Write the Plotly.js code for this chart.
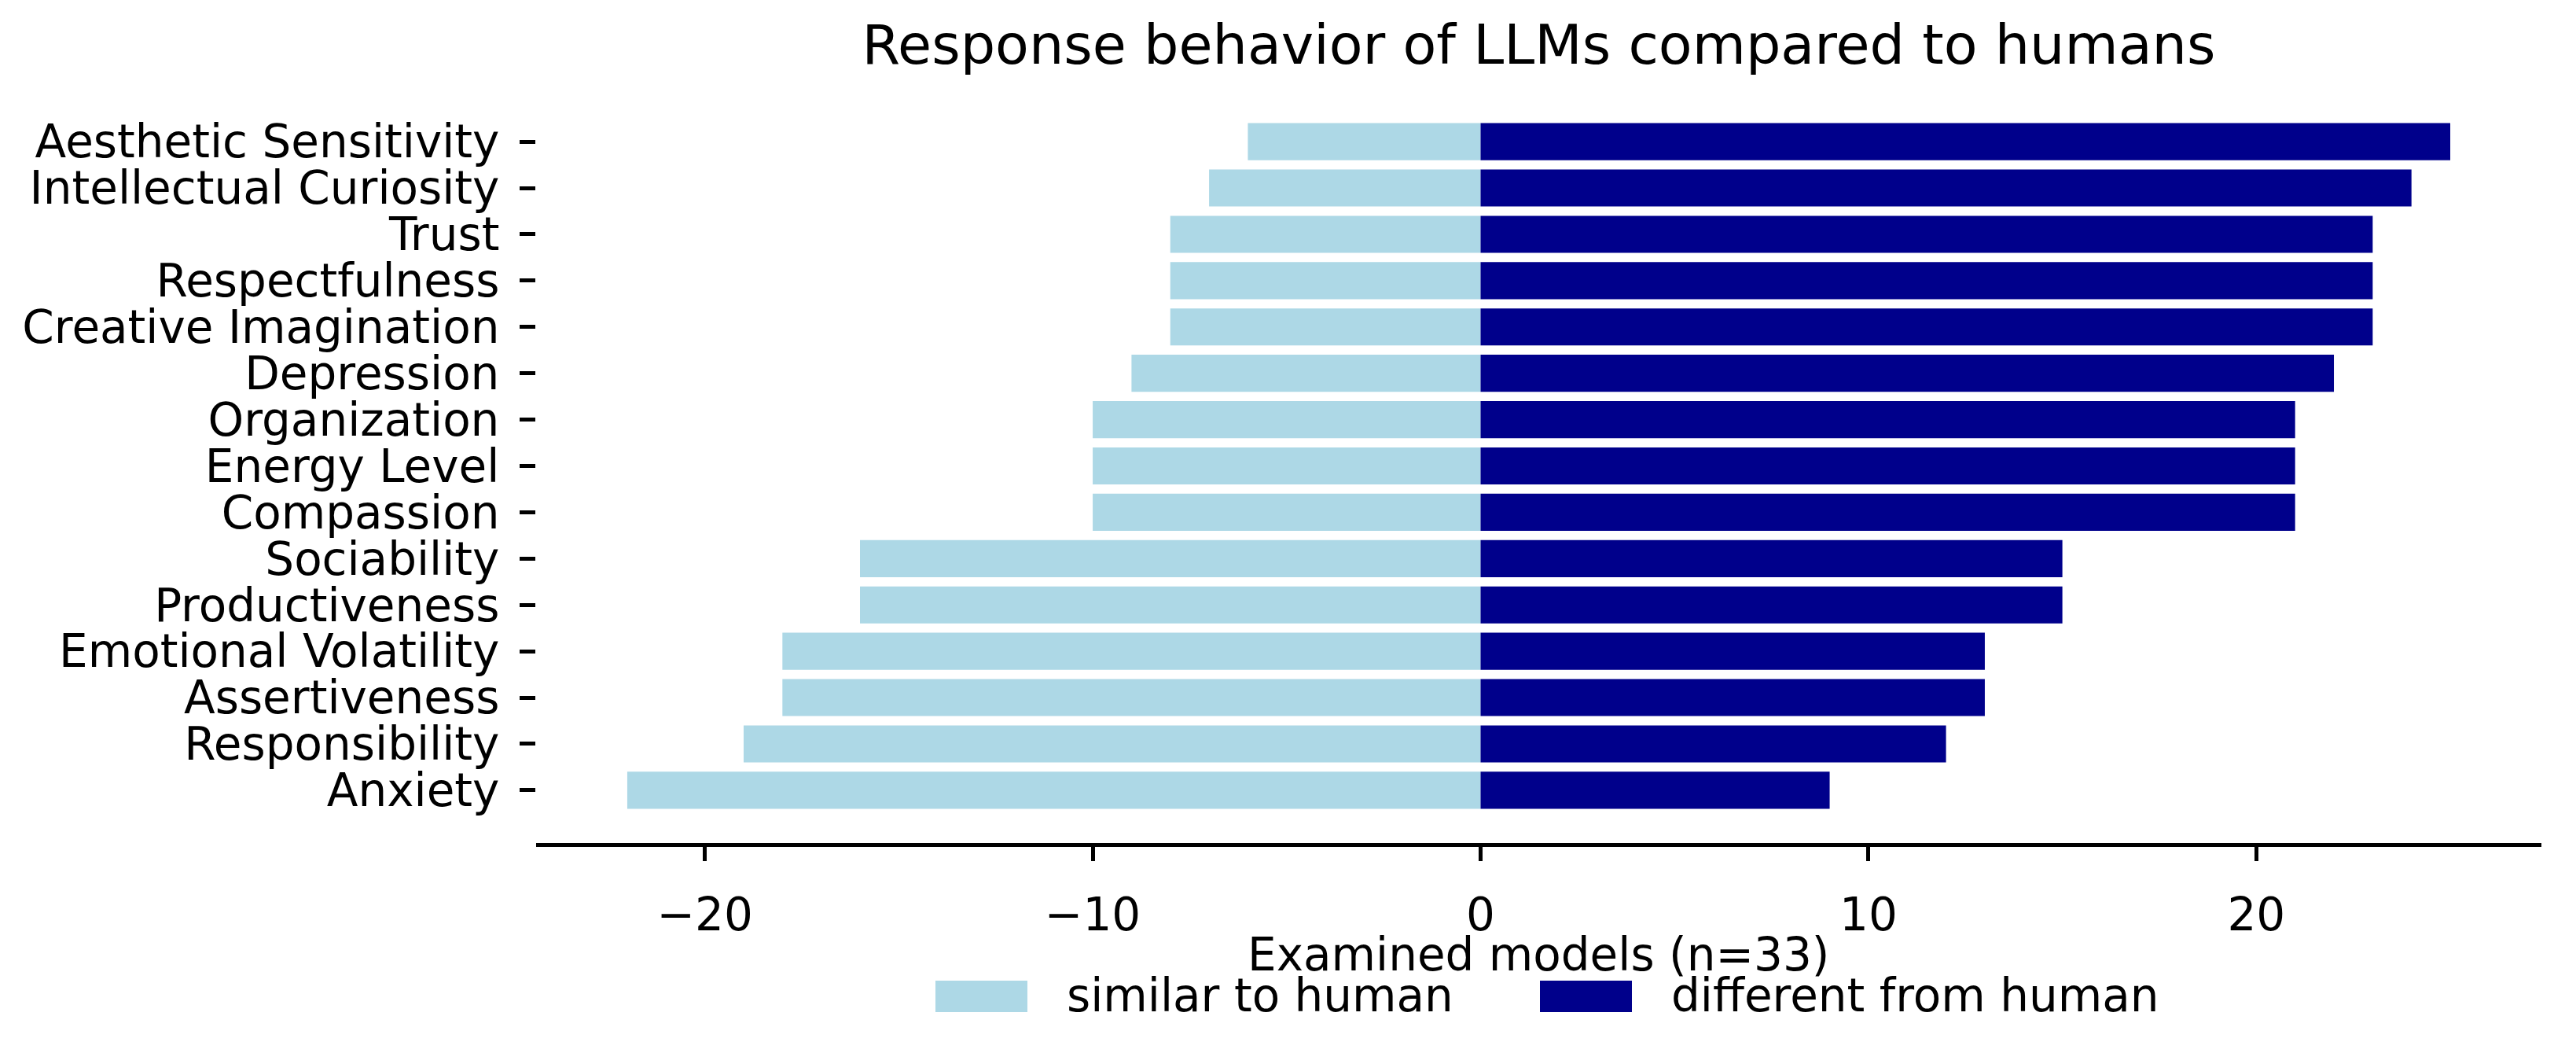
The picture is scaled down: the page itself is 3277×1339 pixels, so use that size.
<!DOCTYPE html>
<html>
<head>
<meta charset="utf-8">
<script src="https://cdn.plot.ly/plotly-3.0.1.min.js"></script>
<style>
  html, body { margin: 0; padding: 0; background: white; }
  #chart { width: 3277px; height: 1339px; }
</style>
</head>
<body>
<div id="chart"></div>
<script>
// traits, top to bottom as in the figure
const traits = [
  'Aesthetic Sensitivity', 'Intellectual Curiosity', 'Trust', 'Respectfulness',
  'Creative Imagination', 'Depression', 'Organization', 'Energy Level',
  'Compassion', 'Sociability', 'Productiveness', 'Emotional Volatility',
  'Assertiveness', 'Responsibility', 'Anxiety'
]
// number of models similar to humans (drawn to the left)
const similar = [-6, -7, -8, -8, -8, -9, -10, -10, -10, -16, -16, -18, -18, -19, -22]
// number of models different from humans (drawn to the right)
const different = [25, 24, 23, 23, 23, 22, 21, 21, 21, 15, 15, 13, 13, 12, 9]

const seriesNames = ['similar to human', 'different from human']
const seriesColors = ['#add8e6', '#00008b']
const xTicks = [-20, -10, 0, 10, 20]
const xTitle = 'Examined models (n=33)'

const W = 3277
const H = 1339
const margin = { l: 682, r: 44, t: 113, b: 267 }
const font = 'DejaVu Sans, Verdana, sans-serif'

// pixel -> paper helpers for the hand-made legend and x title
const plotW = W - margin.l - margin.r
const plotH = H - margin.t - margin.b
const px = x => (x - margin.l) / plotW
const py = y => (H - margin.b - y) / plotH

const data = [similar, different].map((vals, i) => ({
  type: 'bar',
  orientation: 'h',
  y: traits,
  x: vals,
  name: seriesNames[i],
  marker: { color: seriesColors[i], line: { width: 0 } },
  hoverinfo: 'x+y+name',
}))

// x-axis title sits closer to the ticks than plotly allows, so it is an annotation
const annotations = [{
  xref: 'paper', yref: 'paper',
  x: 0.5, y: py(1214),
  xanchor: 'center', yanchor: 'middle',
  text: xTitle, showarrow: false,
  font: { family: font, size: 58, color: 'black' },
}]

// legend patches (matplotlib style, wide rectangles)
const legendPatches = [1190, 1959]
const legendText = [1355, 2124]
const shapes = []
seriesNames.forEach((n, i) => {
  shapes.push({
    type: 'rect', xref: 'paper', yref: 'paper',
    x0: px(legendPatches[i]), x1: px(legendPatches[i] + 117),
    y0: py(1287), y1: py(1247),
    fillcolor: seriesColors[i], line: { width: 0 },
  })
  annotations.push({
    xref: 'paper', yref: 'paper',
    x: px(legendText[i]), y: py(1266),
    xanchor: 'left', yanchor: 'middle',
    text: n, showarrow: false,
    font: { family: font, size: 58, color: 'black' },
  })
})

const layout = {
  width: W,
  height: H,
  margin,
  paper_bgcolor: 'white',
  plot_bgcolor: 'white',
  barmode: 'relative',
  bargap: 0.2,
  showlegend: false,
  font: { family: font, size: 58, color: 'black' },
  title: {
    text: 'Response behavior of LLMs compared to humans',
    font: { family: font, size: 70, color: 'black' },
    x: 0.5,
    xref: 'paper',
    xanchor: 'center',
    y: 1 - 56 / H,
    yref: 'container',
    yanchor: 'middle',
  },
  xaxis: {
    range: [-24.35, 27.35],
    tickmode: 'array',
    tickvals: xTicks,
    ticktext: xTicks.map(v => (v < 0 ? '\u2212' + Math.abs(v) : String(v))),
    ticks: 'outside',
    ticklen: 18,
    tickwidth: 5,
    tickcolor: 'black',
    ticklabelstandoff: 18,
    showline: true,
    linewidth: 5,
    linecolor: 'black',
    showgrid: false,
    zeroline: false,
    tickfont: { family: font, size: 58, color: 'black' },
    fixedrange: true,
  },
  yaxis: {
    type: 'category',
    range: [15.14, -1.14],
    tickmode: 'array',
    tickvals: traits,
    ticktext: traits,
    ticks: 'outside',
    ticklen: 20,
    tickwidth: 5,
    tickcolor: 'black',
    ticklabelstandoff: 14,
    showline: false,
    showgrid: false,
    zeroline: false,
    tickfont: { family: font, size: 58, color: 'black' },
    fixedrange: true,
  },
  shapes,
  annotations,
}

Plotly.newPlot('chart', data, layout, { displayModeBar: false, responsive: false })
</script>
</body>
</html>
